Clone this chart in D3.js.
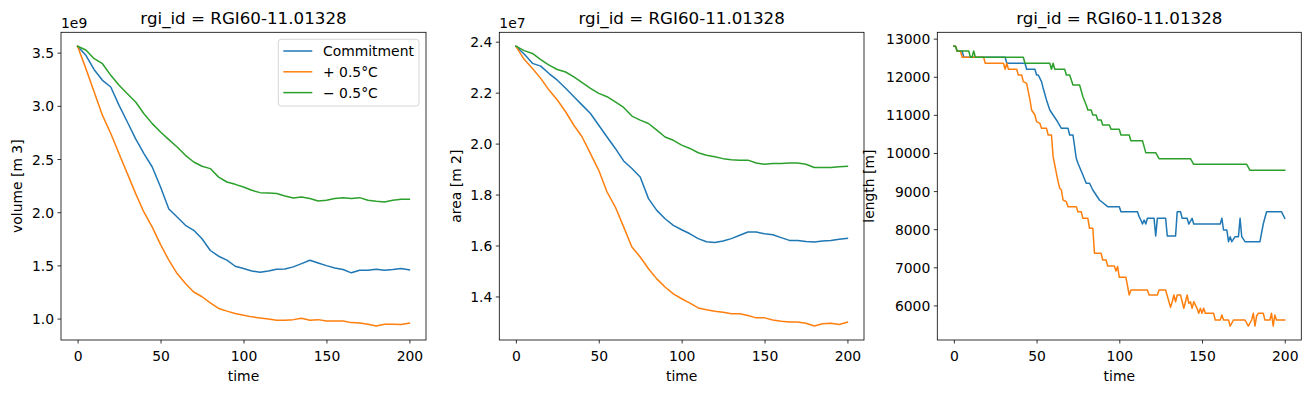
<!DOCTYPE html>
<html><head><meta charset="utf-8">
<script src="https://cdn.jsdelivr.net/npm/d3@7"></script>
<style>
body{margin:0;background:#fff}
text{font-family:"DejaVu Sans",sans-serif;fill:#000}
</style>
</head><body>
<svg id="chart" width="1311" height="393"></svg>
<script>
// ---------------- data ----------------
const seriesNames = ["Commitment", "+ 0.5°C", "\u2212 0.5°C"];
const seriesColors = ["#1f77b4", "#ff7f0e", "#2ca02c"];
const panelTitle = "rgi_id = RGI60-11.01328";

// time axis for volume & area (every 5 years)
const time5 = [0,5,10,15,20,25,30,35,40,45,50,55,60,65,70,75,80,85,90,95,100,
  105,110,115,120,125,130,135,140,145,150,155,160,165,170,175,180,185,190,195,200];

// volume [m3], in units of 1e9
const volCommit = [3.56,3.475,3.34,3.24,3.177,3.005,2.848,2.69,2.55,2.425,2.237,2.03,1.955,1.877,1.83,1.75,1.64,1.586,1.55,1.492,1.47,
  1.448,1.435,1.448,1.464,1.467,1.486,1.517,1.548,1.523,1.498,1.476,1.461,1.43,1.455,1.455,1.464,1.455,1.461,1.47,1.457];
const volWarm = [3.56,3.35,3.13,2.91,2.74,2.55,2.363,2.175,2.0,1.86,1.695,1.55,1.423,1.33,1.25,1.205,1.147,1.095,1.07,1.048,1.032,
  1.016,1.006,0.997,0.984,0.984,0.99,1.003,0.984,0.99,0.978,0.978,0.978,0.962,0.959,0.947,0.93,0.947,0.947,0.944,0.957];
const volCool = [3.56,3.525,3.443,3.396,3.287,3.193,3.114,3.036,2.926,2.833,2.754,2.682,2.613,2.535,2.472,2.432,2.41,2.33,2.284,2.262,2.237,
  2.206,2.184,2.18,2.175,2.153,2.134,2.144,2.128,2.106,2.112,2.128,2.137,2.128,2.137,2.112,2.103,2.097,2.112,2.122,2.122];

// area [m2], in units of 1e7
const areaCommit = [2.382,2.352,2.315,2.304,2.275,2.249,2.217,2.184,2.151,2.118,2.072,2.026,1.981,1.932,1.902,1.869,1.784,1.738,1.705,1.679,1.662,
  1.646,1.627,1.615,1.612,1.618,1.627,1.64,1.653,1.653,1.646,1.642,1.631,1.62,1.62,1.616,1.614,1.618,1.62,1.625,1.628];
const areaWarm = [2.382,2.331,2.295,2.256,2.21,2.171,2.125,2.072,2.026,1.961,1.895,1.81,1.751,1.673,1.594,1.555,1.509,1.469,1.437,1.41,1.391,
  1.374,1.355,1.348,1.342,1.338,1.332,1.332,1.325,1.316,1.316,1.308,1.303,1.3,1.3,1.295,1.284,1.293,1.295,1.29,1.299];
const areaCool = [2.382,2.365,2.354,2.33,2.308,2.291,2.281,2.262,2.239,2.217,2.197,2.184,2.164,2.142,2.108,2.092,2.079,2.053,2.026,2.013,1.994,
  1.981,1.964,1.954,1.948,1.941,1.937,1.935,1.935,1.924,1.919,1.922,1.922,1.924,1.924,1.919,1.906,1.906,1.906,1.909,1.911];

// length [m] : [time, value] breakpoints
const lenCommit = [[0,12800],[1,12800],[2,12676],[5,12676],[6,12511],[31,12511],[32,12354],[43,12354],[44,12197],[49,12197],
  [50,12047],[51,12047],[53,11872],[54,11697],[56,11391],[58,11128],[60,10997],[62,10866],[65,10648],[69,10648],[70,10472],
  [72,10472],[74,9861],[75,9730],[78,9422],[80,9205],[82,9205],[84,9029],[86,8898],[88,8766],[93,8591],[100,8591],[101,8459],
  [111,8459],[112,8328],[113,8241],[114,8136],[115,8241],[116,8136],[117,8285],[121,8285],[122,7822],[123,8285],[128,8285],
  [129,7822],[134,7822],[135,8459],[137,8459],[138,8285],[141,8285],[142,8136],[144,8285],[145,8136],[161,8136],[162,8285],
  [163,7979],[165,7979],[166,7672],[167,7803],[168,7672],[170,7803],[172,7803],[173,8285],[174,7803],[176,7672],[185,7672],
  [187,8136],[189,8459],[198,8459],[200,8285]];
const lenWarm = [[0,12800],[1,12800],[2,12676],[4,12676],[5,12511],[18,12511],[19,12354],[30,12354],[31,12197],[32,12354],
  [33,12197],[38,12197],[39,12047],[41,12047],[42,11872],[44,11828],[45,11610],[46,11391],[47,11128],[49,10997],[50,10822],
  [52,10778],[53,10647],[56,10648],[57,10472],[59,10472],[60,9903],[61,9685],[62,9467],[63,9247],[64,9073],[65,9029],[66,8766],
  [68,8722],[69,8591],[74,8591],[75,8459],[77,8459],[78,8285],[81,8285],[82,8024],[84,8024],[85,7367],[89,7367],[90,7192],
  [92,7192],[93,7034],[97,7034],[98,6900],[99,7020],[100,6737],[104,6737],[106,6273],[107,6404],[117,6404],[118,6273],
  [123,6273],[124,6404],[128,6404],[130,6097],[131,5950],[132,6097],[133,6273],[134,6097],[135,6273],[137,6273],[139,5924],
  [140,6097],[141,6273],[142,6055],[143,6097],[144,5924],[145,6097],[147,5924],[148,5793],[149,5924],[150,5793],[151,5924],
  [152,5793],[157,5793],[158,5617],[161,5617],[162,5748],[163,5617],[166,5617],[167,5459],[169,5617],[176,5617],[178,5459],
  [180,5617],[181,5793],[182,5459],[183,5722],[184,5793],[187,5793],[188,5617],[191,5617],[192,5793],[193,5459],[194,5748],
  [195,5617],[200,5617]];
const lenCool = [[0,12800],[1,12800],[2,12676],[9,12676],[10,12511],[11,12511],[12,12676],[13,12511],[42,12511],[43,12354],
  [58,12354],[59,12197],[60,12354],[61,12197],[67,12197],[68,12047],[70,12047],[72,11784],[76,11784],[78,11478],[80,11259],
  [81,11128],[83,11128],[84,10997],[86,10997],[87,10866],[89,10866],[90,10734],[94,10734],[95,10620],[100,10620],[101,10472],
  [106,10472],[107,10323],[114,10323],[116,10008],[122,10008],[124,9850],[143,9850],[145,9703],[177,9703],[179,9546],[200,9546]];

const xTicks = [0, 50, 100, 150, 200];
const volTicks = [1.0, 1.5, 2.0, 2.5, 3.0, 3.5];
const areaTicks = [1.4, 1.6, 1.8, 2.0, 2.2, 2.4];
const lenTicks = [6000, 7000, 8000, 9000, 10000, 11000, 12000, 13000];

// ---------------- layout ----------------
const svg = d3.select("#chart");
const FS = 13.9;
const plotTop = 32.3, plotBottom = 340;
const panels = [
  {left: 61, right: 426, ylabel: "volume [m 3]", ylabelX: 21.5, offset: "1e9", ticks: volTicks, fmt: d3.format(".1f"),
   series: [volCommit, volWarm, volCool].map(v => v.map((y, i) => [time5[i], y])), legend: true},
  {left: 499.3, right: 864, ylabel: "area [m 2]", ylabelX: 460.5, offset: "1e7", ticks: areaTicks, fmt: d3.format(".1f"),
   series: [areaCommit, areaWarm, areaCool].map(v => v.map((y, i) => [time5[i], y]))},
  {left: 937.3, right: 1301.3, ylabel: "length [m]", ylabelX: 874, offset: null, ticks: lenTicks, fmt: d3.format("d"),
   series: [lenCommit, lenWarm, lenCool]}
];

panels.forEach(p => {
  const all = p.series.flat();
  const xExt = d3.extent(all, d => d[0]);
  const yExt = d3.extent(all, d => d[1]);
  const xPad = (xExt[1] - xExt[0]) * 0.05, yPad = (yExt[1] - yExt[0]) * 0.05;
  const x = d3.scaleLinear().domain([xExt[0] - xPad, xExt[1] + xPad]).range([p.left, p.right]);
  const y = d3.scaleLinear().domain([yExt[0] - yPad, yExt[1] + yPad]).range([plotBottom, plotTop]);
  const g = svg.append("g");

  // lines
  const line = d3.line().x(d => x(d[0])).y(d => y(d[1]));
  p.series.forEach((s, i) => {
    g.append("path").datum(s).attr("d", line).attr("fill", "none")
      .attr("stroke", seriesColors[i]).attr("stroke-width", 1.5)
      .attr("stroke-linejoin", "round").attr("stroke-linecap", "square");
  });

  // frame
  g.append("rect").attr("x", p.left).attr("y", plotTop).attr("width", p.right - p.left).attr("height", plotBottom - plotTop)
    .attr("fill", "none").attr("stroke", "#000").attr("stroke-width", 0.8);

  // x axis
  const xa = g.append("g").attr("transform", `translate(0,${plotBottom})`)
    .call(d3.axisBottom(x).tickValues(xTicks).tickSize(3.5).tickPadding(3.5).tickFormat(d3.format("d")));
  xa.select(".domain").remove();
  xa.selectAll("line").attr("stroke-width", 0.8);
  xa.selectAll("text").attr("y", 21).attr("dy", 0).style("font-size", FS + "px").style("font-family", "DejaVu Sans");

  // y axis
  const ya = g.append("g").attr("transform", `translate(${p.left},0)`)
    .call(d3.axisLeft(y).tickValues(p.ticks).tickSize(3.5).tickPadding(3.5).tickFormat(p.fmt));
  ya.select(".domain").remove();
  ya.selectAll("line").attr("stroke-width", 0.8);
  ya.selectAll("text").attr("dy", "0.36em").style("font-size", FS + "px").style("font-family", "DejaVu Sans");

  // labels
  g.append("text").attr("x", (p.left + p.right) / 2).attr("y", 381).attr("text-anchor", "middle")
    .style("font-size", FS + "px").text("time");
  g.append("text").attr("transform", `translate(${p.ylabelX},${(plotTop + plotBottom) / 2}) rotate(-90)`)
    .attr("text-anchor", "middle").style("font-size", FS + "px").text(p.ylabel);
  g.append("text").attr("x", (p.left + p.right) / 2).attr("y", 24).attr("text-anchor", "middle")
    .style("font-size", "16.7px").text(panelTitle);
  if (p.offset) {
    g.append("text").attr("x", p.left).attr("y", 28).style("font-size", FS + "px").text(p.offset);
  }

  // legend
  if (p.legend) {
    const lg = g.append("g");
    lg.append("rect").attr("x", 278.3).attr("y", 39.3).attr("width", 140.7).attr("height", 66.7)
      .attr("rx", 2.8).attr("fill", "#fff").attr("fill-opacity", 0.8).attr("stroke", "#cccccc").attr("stroke-width", 0.8);
    seriesNames.forEach((n, i) => {
      const cy = 51 + i * 20.8;
      lg.append("line").attr("x1", 283.3).attr("x2", 312.3).attr("y1", cy).attr("y2", cy)
        .attr("stroke", seriesColors[i]).attr("stroke-width", 1.5);
      lg.append("text").attr("x", 323).attr("y", cy).attr("dy", "0.36em").style("font-size", FS + "px").text(n);
    });
  }
});
</script>
</body></html>
